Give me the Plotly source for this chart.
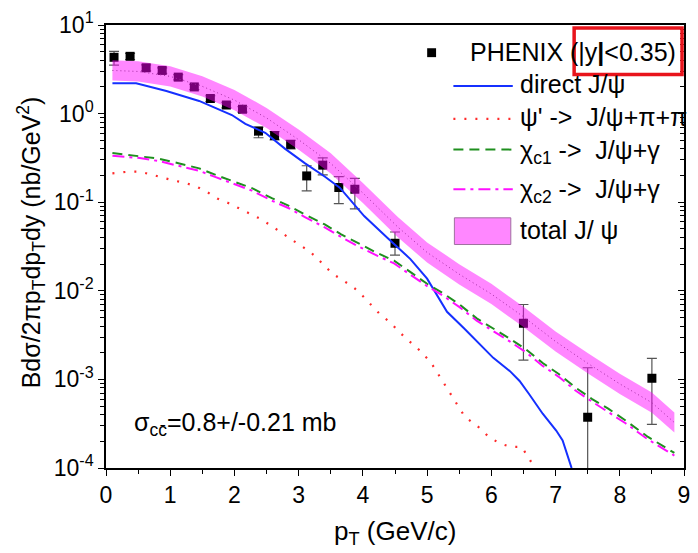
import plotly.graph_objects as go

# ---------------- data ----------------
phenix_pt = [0.125, 0.375, 0.625, 0.875, 1.125, 1.375, 1.625, 1.875, 2.125, 2.375,
             2.625, 2.875, 3.125, 3.375, 3.625, 3.875, 4.5, 6.5, 7.5, 8.5]
phenix_val = [4.32, 4.43, 3.29, 3.07, 2.58, 2.0, 1.48, 1.25, 1.12, 0.634,
              0.566, 0.449, 0.198, 0.262, 0.1465, 0.140, 0.0344, 0.0043, 0.000374, 0.00103]
phenix_err_up = [0.72, 0.35, 0.25, 0.22, 0.18, 0.14, 0.11, 0.09, 0.08, 0.07,
                 0.06, 0.05, 0.06, 0.055, 0.048, 0.046, 0.0117, 0.0027, 0.00098, 0.0007]
phenix_err_dn = [0.80, 0.35, 0.25, 0.22, 0.18, 0.14, 0.11, 0.09, 0.08, 0.10,
                 0.06, 0.05, 0.064, 0.059, 0.05, 0.056, 0.0091, 0.00265, 0.00036, 0.00072]

direct_pt = [0.1, 0.47, 0.94, 1.45, 1.96, 2.17, 2.48, 2.79, 3.10, 3.41, 3.64, 4.02, 4.38,
             4.74, 5.00, 5.21, 5.31, 5.57, 5.77, 6.03, 6.29, 6.44, 6.59, 6.80, 7.01, 7.11, 7.25]
direct_val = [2.20, 2.20, 1.80, 1.39, 0.964, 0.765, 0.607, 0.40, 0.274, 0.194, 0.146, 0.0697,
              0.0398, 0.0228, 0.0137, 0.0075, 0.0058, 0.0038, 0.0027, 0.00175, 0.00124,
              0.00096, 0.00068, 0.00041, 0.000265, 0.000205, 0.0001]

psi2s_pt = [0.1, 0.344, 0.535, 0.715, 0.884, 1.065, 1.245, 1.409, 1.569, 1.733, 1.903, 2.068,
            2.233, 2.403, 2.557, 2.711, 2.866, 3.02, 3.159, 3.292, 3.421, 3.569, 3.714, 3.869,
            3.997, 4.136, 4.27, 4.409, 4.537, 4.665, 4.819, 4.949, 5.077, 5.238, 5.386, 5.586,
            5.80, 5.95, 6.12, 6.30, 6.47, 6.58, 6.67]
psi2s_val = [0.212, 0.221, 0.221, 0.203, 0.191, 0.175, 0.164, 0.150, 0.131, 0.110, 0.098, 0.086,
             0.0757, 0.0649, 0.0552, 0.0461, 0.0388, 0.0327, 0.0283, 0.0232, 0.0184, 0.0149,
             0.0128, 0.0107, 0.00875, 0.00689, 0.0054, 0.00449, 0.00362, 0.00292, 0.00236,
             0.00191, 0.00148, 0.00096, 0.00065, 0.00038, 0.00029, 0.000228, 0.000191,
             0.000173, 0.000173, 0.000132, 0.0001]

chi_pt = [0.1, 0.525, 0.833, 1.142, 1.451, 1.708, 1.964, 2.273, 2.582, 2.84, 3.097, 3.406,
          3.662, 3.92, 4.228, 4.486, 4.738, 5.0, 5.258, 5.51, 5.772, 6.03, 6.28, 6.54, 6.80,
          7.05, 7.31, 7.57, 7.82, 8.09, 8.44, 8.85]
chic1_val = [0.360, 0.333, 0.309, 0.274, 0.241, 0.203, 0.175, 0.144, 0.111, 0.0914, 0.0725,
             0.0561, 0.0434, 0.0344, 0.0266, 0.0219, 0.0162, 0.0120, 0.00929, 0.00695, 0.00489,
             0.00378, 0.0029, 0.00218, 0.00153, 0.00115, 0.00081, 0.0006, 0.000467, 0.000344,
             0.000224, 0.000148]
chic2_val = [0.335, 0.315, 0.29, 0.258, 0.226, 0.192, 0.165, 0.135, 0.104, 0.086, 0.068,
             0.052, 0.0405, 0.032, 0.0248, 0.0204, 0.0152, 0.0113, 0.0087, 0.0065, 0.0046,
             0.00352, 0.0027, 0.00202, 0.00142, 0.00107, 0.00075, 0.00056, 0.00043, 0.00032,
             0.00021, 0.000138]

total_pt = [0.1, 0.5, 1.0, 1.5, 2.0, 2.5, 3.0, 3.5, 4.0, 4.54, 5.0, 5.5, 6.0, 6.5, 7.0,
            7.5, 8.0, 8.5, 8.85]
total_val = [3.07, 2.99, 2.63, 2.03, 1.42, 0.893, 0.507, 0.274, 0.127, 0.0528, 0.0271, 0.0154,
             0.0092, 0.0051, 0.00268, 0.00152, 0.00089, 0.000546, 0.000326]
total_hi = [3.99, 3.89, 3.42, 2.64, 1.85, 1.16, 0.66, 0.356, 0.165, 0.0686, 0.0352, 0.020,
            0.012, 0.0066, 0.00348, 0.00198, 0.00116, 0.00071, 0.000424]
total_lo = [2.36, 2.30, 2.02, 1.56, 1.09, 0.687, 0.39, 0.211, 0.0977, 0.0406, 0.0208, 0.0118,
            0.0071, 0.0039, 0.00206, 0.00117, 0.000685, 0.00042, 0.000251]

y_tickvals = [1e1, 1e0, 1e-1, 1e-2, 1e-3, 1e-4]
y_ticktext = ["10<sup>1</sup>", "10<sup>0</sup>", "10<sup>-1</sup>", "10<sup>-2</sup>",
              "10<sup>-3</sup>", "10<sup>-4</sup>"]
x_tickvals = [0, 1, 2, 3, 4, 5, 6, 7, 8, 9]

legend_labels = ["PHENIX (|y<b>|</b><0.35)", "direct J/\u03c8",
                 "\u03c8' ->  J/\u03c8+\u03c0+\u03c0",
                 "\u03c7<sub>c1</sub> ->  J/\u03c8+\u03b3", "\u03c7<sub>c2</sub> ->  J/\u03c8+\u03b3",
                 "total J/ \u03c8"]

# ---------------- styling ----------------
FONT = "Arial, Liberation Sans, sans-serif"
W, H = 698, 553
L, R, T, B = 106, 690, 20, 468
PW, PH = R - L, B - T
BAND = "rgba(255,0,255,0.47)"


def px(x):
    return (x - L) / PW


def py(y):
    return (B - y) / PH


minor_y = [m * 10 ** e for e in range(-4, 1) for m in range(2, 10)]

fig = go.Figure()

# data points (under the band so they look purple inside it)
fig.add_trace(go.Scatter(
    x=phenix_pt, y=phenix_val, mode="markers",
    marker=dict(symbol="square", size=9, color="black"),
    error_y=dict(type="data", symmetric=False, array=phenix_err_up, arrayminus=phenix_err_dn,
                 color="#555555", thickness=1.2, width=5),
    showlegend=False))

# central total line (dotted)
fig.add_trace(go.Scatter(x=total_pt, y=total_val, mode="lines",
                         line=dict(color="#555555", width=1, dash="1px,3px"), showlegend=False))

# band
fig.add_trace(go.Scatter(x=total_pt, y=total_lo, mode="lines", line=dict(width=0),
                         showlegend=False, hoverinfo="skip"))
fig.add_trace(go.Scatter(x=total_pt, y=total_hi, mode="lines", line=dict(width=0),
                         fill="tonexty", fillcolor=BAND, showlegend=False))

fig.add_trace(go.Scatter(x=direct_pt, y=direct_val, mode="lines",
                         line=dict(color="#1530ff", width=2), showlegend=False))
fig.add_trace(go.Scatter(x=psi2s_pt, y=psi2s_val, mode="lines",
                         line=dict(color="#ff2a2a", width=2.2, dash="2px,9px"), showlegend=False))
fig.add_trace(go.Scatter(x=chi_pt, y=chic1_val, mode="lines",
                         line=dict(color="#1f8f1f", width=2, dash="10px,6px"), showlegend=False))
fig.add_trace(go.Scatter(x=chi_pt, y=chic2_val, mode="lines",
                         line=dict(color="#ff10ff", width=2, dash="12px,5px,3px,5px"),
                         showlegend=False))

# dummy trace for the right-hand axis
fig.add_trace(go.Scatter(x=[None], y=[None], yaxis="y2", showlegend=False, hoverinfo="skip"))

shapes = []
annotations = []

# ----- manual legend -----
row_y = [48, 81.7, 115, 146, 186, 228.5]
text_y = [47, 80, 113, 148, 188, 227]
# PHENIX marker
shapes.append(dict(type="rect", xref="paper", yref="paper",
                   x0=px(430.5), x1=px(439.5), y0=py(52.5), y1=py(43.5),
                   fillcolor="black", line=dict(width=0)))
line_styles = [
    dict(color="#1530ff", width=2),
    dict(color="#ff2a2a", width=2.2, dash="2px,9px"),
    dict(color="#1f8f1f", width=2, dash="10px,6px"),
    dict(color="#ff10ff", width=2, dash="12px,5px,3px,5px"),
]
for i, st in enumerate(line_styles):
    yy = row_y[i + 1]
    shapes.append(dict(type="line", xref="paper", yref="paper",
                       x0=px(457), x1=px(517), y0=py(yy), y1=py(yy), line=st))
shapes.append(dict(type="rect", xref="paper", yref="paper",
                   x0=px(458), x1=px(515), y0=py(242), y1=py(215),
                   fillcolor=BAND, line=dict(color="#a070a0", width=1)))

annotations.append(dict(xref="paper", yref="paper", x=px(472), y=py(text_y[0]),
                        text=legend_labels[0], showarrow=False, xanchor="left",
                        yanchor="middle", font=dict(family=FONT, size=25, color="black")))
for i in range(1, 6):
    annotations.append(dict(xref="paper", yref="paper", x=px(522), y=py(text_y[i]),
                            text=legend_labels[i], showarrow=False, xanchor="left",
                            yanchor="middle", font=dict(family=FONT, size=25, color="black")))

# red highlight box
shapes.append(dict(type="rect", xref="paper", yref="paper",
                   x0=px(579), x1=px(688), y0=py(70), y1=py(23),
                   line=dict(color="#e8141c", width=3.5), fillcolor="rgba(0,0,0,0)"))

# sigma annotation
annotations.append(dict(xref="paper", yref="paper", x=px(132), y=py(424),
                        text="\u03c3<sub>cc\u0304</sub>=0.8+/-0.21 mb", showarrow=False,
                        xanchor="left", yanchor="middle",
                        font=dict(family=FONT, size=25, color="black")))

# axis titles
annotations.append(dict(xref="paper", yref="paper", x=px(30), y=py(240),
                        text="Bd\u03c3/2\u03c0p<sub>T</sub>dp<sub>T</sub>dy (nb/GeV<sup>2</sup>)",
                        textangle=-90, showarrow=False, xanchor="center", yanchor="middle",
                        font=dict(family=FONT, size=25, color="black")))
annotations.append(dict(xref="paper", yref="paper", x=px(398), y=py(533),
                        text="p<sub>T</sub> (GeV/c)", showarrow=False, xanchor="center",
                        yanchor="middle", font=dict(family=FONT, size=26, color="black")))

fig.update_layout(
    width=W, height=H,
    margin=dict(l=L, r=W - R, t=T, b=H - B, pad=0),
    paper_bgcolor="white", plot_bgcolor="white",
    showlegend=False,
    shapes=shapes, annotations=annotations,
    xaxis=dict(range=[0, 9], tickmode="array", tickvals=x_tickvals,
               ticks="outside", ticklen=6, tickwidth=1.3, tickcolor="black",
               showline=True, linecolor="black", linewidth=1.6, mirror=True,
               showgrid=False, zeroline=False,
               tickfont=dict(family=FONT, size=23, color="black"),
               minor=dict(dtick=0.5, ticks="outside", ticklen=4, tickcolor="black",
                          showgrid=False)),
    yaxis=dict(type="log", range=[-4, 1], tickmode="array", tickvals=y_tickvals,
               ticktext=y_ticktext, ticks="outside", ticklen=6, tickwidth=1.3,
               tickcolor="black", showline=True, linecolor="black", linewidth=1.6,
               showgrid=False, zeroline=False,
               tickfont=dict(family=FONT, size=23, color="black"),
               minor=dict(tickmode="array", tickvals=minor_y, ticks="outside", ticklen=4,
                          tickcolor="black", showgrid=False)),
    yaxis2=dict(type="log", range=[-4, 1], overlaying="y", side="right",
                tickmode="array", tickvals=y_tickvals, showticklabels=False,
                ticks="inside", ticklen=6, tickwidth=1.3, tickcolor="black",
                showline=True, linecolor="black", linewidth=1.6,
                showgrid=False, zeroline=False,
                minor=dict(tickmode="array", tickvals=minor_y, ticks="inside", ticklen=4,
                           tickcolor="black", showgrid=False)),
)

fig.write_html("out.html")
